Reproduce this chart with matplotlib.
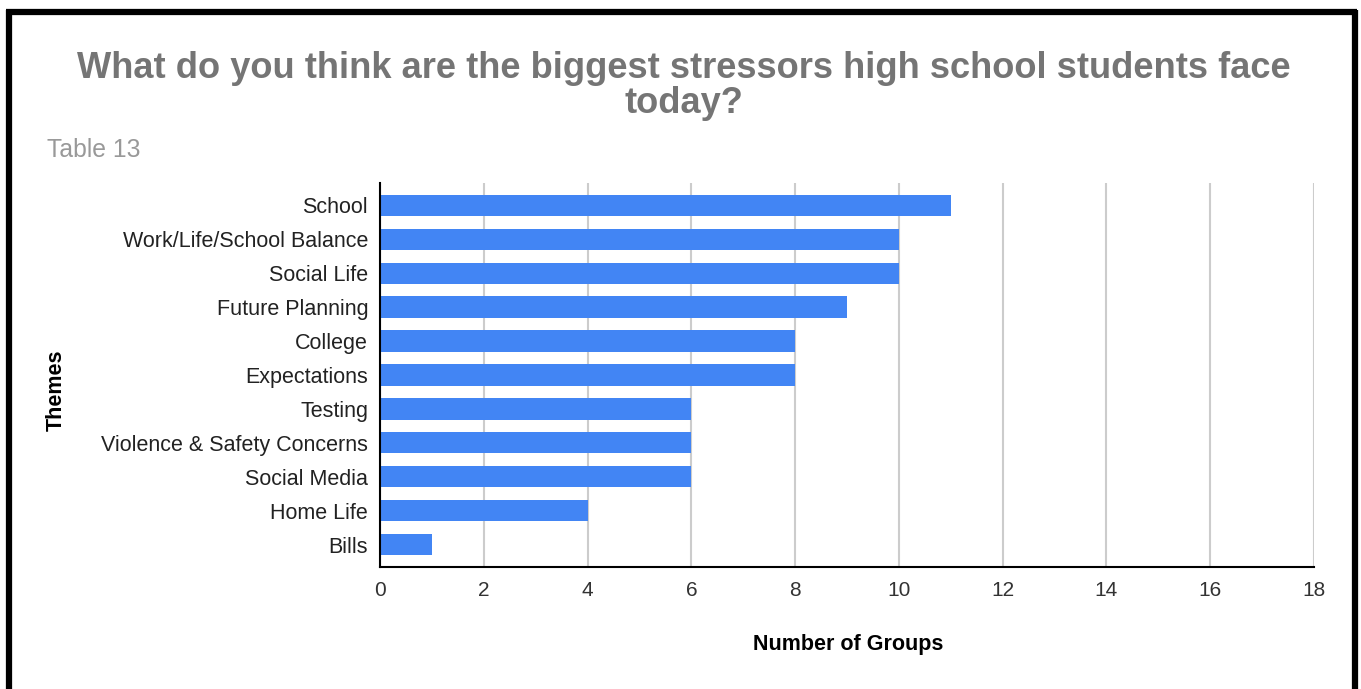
import matplotlib.pyplot as plt
from matplotlib.lines import Line2D

themes = ['School', 'Work/Life/School Balance', 'Social Life', 'Future Planning',
          'College', 'Expectations', 'Testing', 'Violence & Safety Concerns',
          'Social Media', 'Home Life', 'Bills']
groups = [11, 10, 10, 9, 8, 8, 6, 6, 6, 4, 1]
x_ticks = [0, 2, 4, 6, 8, 10, 12, 14, 16, 18]

plt.rcParams['font.family'] = ['Liberation Sans', 'DejaVu Sans']

fig = plt.figure(figsize=(13.61, 6.89), dpi=100)
ax = fig.add_axes([0.2792, 0.1771, 0.6863, 0.5573])

pos = list(range(len(themes)))
ax.barh(pos, groups, height=0.62, color='#4285f4', zorder=3)
ax.set_ylim(len(themes) - 0.35, -0.65)
ax.set_yticks(pos)
ax.set_yticklabels(themes, fontsize=15.5, color='#222222')

ax.set_xlim(0, 18)
ax.set_xticks(x_ticks)
ax.set_xticklabels([str(t) for t in x_ticks], fontsize=15, color='#333333')
ax.tick_params(length=0, pad=10)
ax.tick_params(axis='y', pad=8.5)
ax.grid(axis='x', color='#cccccc', linewidth=1.5, zorder=0)

for side in ['top', 'right']:
    ax.spines[side].set_visible(False)
for side in ['left', 'bottom']:
    ax.spines[side].set_color('black')
    ax.spines[side].set_linewidth(1.5)
    ax.spines[side].set_zorder(4)

fig.text(0.5025, 0.875, 'What do you think are the biggest stressors high school students face\ntoday?',
         ha='center', va='center', fontsize=26.1, fontweight='bold', color='#757575',
         linespacing=1.0)
fig.text(0.0345, 0.782, 'Table 13', ha='left', va='center', fontsize=17.8, color='#999999')
fig.text(0.0415, 0.434, 'Themes', ha='center', va='center', rotation=90,
         fontsize=15.5, fontweight='bold', color='black')
fig.text(0.623, 0.064, 'Number of Groups', ha='center', va='center',
         fontsize=15.5, fontweight='bold', color='black')

# black frame around the chart (open at the bottom)
W, H = 1361, 689
frame = dict(color='black', linewidth=4.5, solid_capstyle='butt')
fig.add_artist(Line2D([6 / W, 1357 / W], [1 - 12 / H, 1 - 12 / H], transform=fig.transFigure, **frame))
fig.add_artist(Line2D([9 / W, 9 / W], [0, 1 - 9.5 / H], transform=fig.transFigure, **frame))
fig.add_artist(Line2D([1354.5 / W, 1354.5 / W], [0, 1 - 9.5 / H], transform=fig.transFigure, **frame))

fig.savefig('out.png', dpi=100, facecolor='white')
